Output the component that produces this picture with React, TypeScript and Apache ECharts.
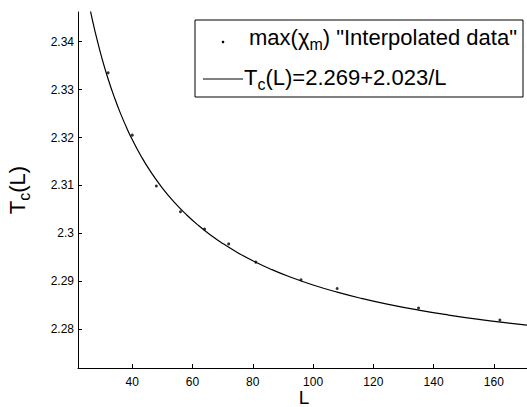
import React, { useEffect, useRef } from "react";
import * as echarts from "echarts";

// Measured data: system size L and max of chi_m (interpolated)
const sizesL = [32, 40, 48, 56, 64, 72, 81, 96, 108, 135, 162];
const tcValues = [2.3335, 2.3205, 2.3099, 2.3045, 2.3009, 2.2978, 2.294, 2.2903, 2.2885, 2.2844, 2.2819];

// Fit T_c(L) = a + b / L (as stated in the legend)
const fitA = 2.269;
const fitB = 2.023;
const fitL = [22, 23, 24, 25, 26, 27, 28, 30, 32, 34, 36, 38, 40, 43, 46, 50, 54, 58, 62, 66, 70, 75, 80, 86, 92, 100, 108, 116, 125, 135, 145, 155, 165, 171];

const xTicks = [40, 60, 80, 100, 120, 140, 160];
const yTicks = [2.28, 2.29, 2.3, 2.31, 2.32, 2.33, 2.34];

const FONT = "Liberation Sans, Arial, sans-serif";

export default function App() {
  const ref = useRef<HTMLDivElement>(null);
  useEffect(() => {
    if (!ref.current) return;
    const chart = echarts.init(ref.current, null, { renderer: "svg" });
    const fitData = fitL.map((l) => [l, fitA + fitB / l]);
    const scatterData = sizesL.map((l, i) => [l, tcValues[i]]);
    chart.setOption({
      animation: false,
      backgroundColor: "#fff",
      textStyle: { fontFamily: FONT },
      grid: { left: 78, right: 0, top: 12, bottom: 39, containLabel: false, outerBoundsMode: "none" },
      xAxis: {
        type: "value",
        min: 22,
        max: 171,
        splitLine: { show: false },
        axisLine: { show: true, onZero: false, lineStyle: { color: "#000", width: 1 } },
        axisTick: { show: true, inside: true, length: 4, customValues: xTicks, lineStyle: { color: "#000" } },
        axisLabel: { customValues: xTicks, fontSize: 12, color: "#000", margin: 8, fontFamily: FONT },
      },
      yAxis: {
        type: "value",
        min: 2.2719,
        max: 2.3462,
        name: "{n|T}{s|c}{n|(L)}",
        nameLocation: "middle",
        nameRotate: 90,
        nameGap: 46,
        nameTextStyle: {
          color: "#000",
          fontFamily: FONT,
          rich: {
            n: { fontSize: 22, lineHeight: 30, verticalAlign: "middle", color: "#000", fontFamily: FONT },
            s: { fontSize: 16, lineHeight: 15, verticalAlign: "bottom", color: "#000", fontFamily: FONT },
          },
        },
        splitLine: { show: false },
        axisLine: { show: true, onZero: false, lineStyle: { color: "#000", width: 1 } },
        axisTick: { show: true, inside: true, length: 4, customValues: yTicks, lineStyle: { color: "#000" } },
        axisLabel: { customValues: yTicks, fontSize: 12, color: "#000", margin: 4, fontFamily: FONT },
      },
      series: [
        {
          type: "line",
          data: fitData,
          smooth: true,
          showSymbol: false,
          clip: true,
          lineStyle: { color: "#000", width: 1.2 },
        },
        {
          type: "scatter",
          data: scatterData,
          symbol: "circle",
          symbolSize: 3,
          itemStyle: { color: "#000" },
        },
      ],
      graphic: [
        {
          type: "text",
          x: 304,
          y: 407,
          style: {
            text: "L",
            fontSize: 19,
            fontFamily: FONT,
            fill: "#000",
            align: "center",
            verticalAlign: "bottom",
          },
        },
        {
          type: "rect",
          shape: { x: 195, y: 20, width: 328, height: 77 },
          style: { fill: "#fff", stroke: "#000", lineWidth: 1 },
          z: 10,
        },
        {
          type: "circle",
          shape: { cx: 223, cy: 42, r: 1.3 },
          style: { fill: "#000" },
          z: 11,
        },
        {
          type: "text",
          x: 249,
          y: 37,
          z: 11,
          style: {
            text: "{n|max(}{g|χ}{s|m}{n|) \"Interpolated data\"}",
            verticalAlign: "middle",
            rich: {
              n: { fontSize: 22, lineHeight: 30, verticalAlign: "middle", fill: "#000", fontFamily: FONT },
              g: { fontSize: 22, lineHeight: 30, verticalAlign: "middle", fill: "#000", fontFamily: FONT },
              s: { fontSize: 16, lineHeight: 14, verticalAlign: "bottom", fill: "#000", fontFamily: FONT },
            },
          },
        },
        {
          type: "line",
          shape: { x1: 203, y1: 79, x2: 243, y2: 79 },
          style: { stroke: "#000", lineWidth: 1 },
          z: 11,
        },
        {
          type: "text",
          x: 244,
          y: 77,
          z: 11,
          style: {
            text: "{n|T}{s|c}{n|(L)=2.269+2.023/L}",
            verticalAlign: "middle",
            rich: {
              n: { fontSize: 22, lineHeight: 30, verticalAlign: "middle", fill: "#000", fontFamily: FONT },
              s: { fontSize: 16, lineHeight: 14, verticalAlign: "bottom", fill: "#000", fontFamily: FONT },
            },
          },
        },
      ],
    });
    return () => chart.dispose();
  }, []);
  return (
    <div
      ref={ref}
      style={{ position: "fixed", left: 0, top: 0, width: 527, height: 407, background: "#fff" }}
    />
  );
}
